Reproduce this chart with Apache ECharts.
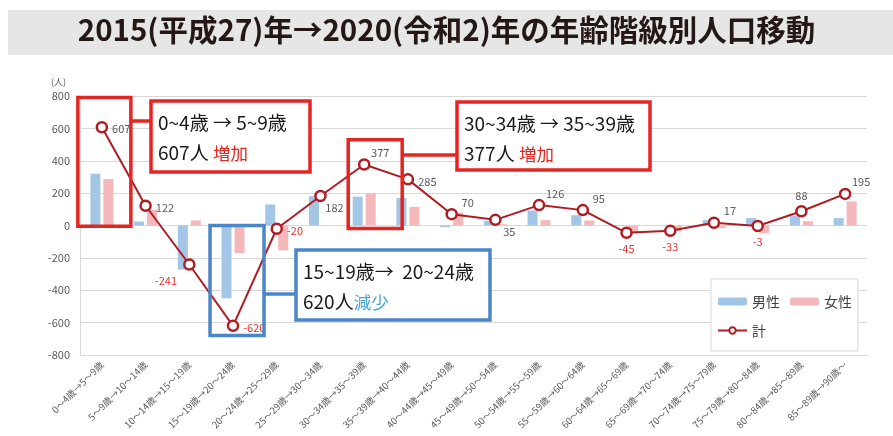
<!DOCTYPE html>
<html>
<head>
<meta charset="utf-8">
<script src="https://cdn.jsdelivr.net/npm/echarts@6/dist/echarts.min.js"></script>
<style>
  html, body { margin: 0; padding: 0; background: #fff; }
  #chart { width: 893px; height: 436px; }
</style>
</head>
<body>
<div id="chart"></div>
<script>
const FONT = '"Noto Sans CJK JP", "Noto Sans", sans-serif';

const categories = [
  '0～4歳→5～9歳', '5～9歳→10～14歳', '10～14歳→15～19歳', '15～19歳→20～24歳',
  '20～24歳→25～29歳', '25～29歳→30～34歳', '30～34歳→35～39歳', '35～39歳→40～44歳',
  '40～44歳→45～49歳', '45～49歳→50～54歳', '50～54歳→55～59歳', '55～59歳→60～64歳',
  '60～64歳→65～69歳', '65～69歳→70～74歳', '70～74歳→75～79歳', '75～79歳→80～84歳',
  '80～84歳→85～89歳', '85～89歳→90歳～'
];
const male   = [320, 25, -272, -450, 130, 181, 178, 170, -10, 27, 93, 64, -3, 2, 33, 46, 61, 46];
const female = [287, 97, 31, -170, -154, 1, 199, 115, 80, 8, 33, 31, -40, -35, -16, -49, 27, 149];
const total  = [607, 122, -241, -620, -20, 182, 377, 285, 70, 35, 126, 95, -45, -33, 17, -3, 88, 195];
const yTicks = { min: -800, max: 800, step: 200 };

// where each total label sits around its point
const labelPlace = ['r', 'r', 'bl', 'r', 'r', 'br', 'tr', 'r', 'tr', 'br', 'tr', 'tr', 'b', 'b', 'tr', 'b', 't', 'tr'];

const placeMap = {
  r:  { position: 'right', offset: [0, 2] },
  tr: { position: 'top', offset: [16, 4] },
  br: { position: 'bottom', offset: [14, -4] },
  bl: { position: 'left', offset: [-2, 16] },
  b:  { position: 'bottom', offset: [0, 0] },
  t:  { position: 'top', offset: [0, 0] }
};

const lineColor = '#b01c23';

const totalData = total.map((v, i) => ({
  value: v,
  label: Object.assign({ color: v < 0 ? '#e8312e' : '#595959' }, placeMap[labelPlace[i]])
}));

const chart = echarts.init(document.getElementById('chart'));

chart.setOption({
  animation: false,
  textStyle: { fontFamily: FONT },
  grid: { left: 80, right: 26, top: 96, bottom: 81 },
  legend: {
    data: ['男性', '女性', '計'],
    left: 711, top: 279,
    width: 140,
    padding: [13, 6, 11, 6],
    itemWidth: 29, itemHeight: 8, itemGap: 10,
    borderColor: '#d9d9d9', borderWidth: 1,
    backgroundColor: '#fff',
    textStyle: { fontSize: 14, color: '#404040', fontFamily: FONT, lineHeight: 19 }
  },
  xAxis: {
    type: 'category',
    data: categories,
    axisLine: { onZero: false, lineStyle: { color: '#d9d9d9' } },
    axisTick: { show: false },
    axisLabel: { interval: 0, rotate: 45, fontSize: 9.5, color: '#595959', margin: 8 }
  },
  yAxis: {
    type: 'value',
    min: yTicks.min, max: yTicks.max, interval: yTicks.step,
    name: '(人)',
    nameGap: 10,
    nameTextStyle: { fontSize: 9, color: '#595959', align: 'right', padding: [0, 14, 0, 0] },
    axisLine: { show: true, lineStyle: { color: '#d9d9d9' } },
    axisTick: { show: false },
    axisLabel: { fontSize: 11, color: '#595959', margin: 10 },
    splitLine: { lineStyle: { color: '#d9d9d9' } }
  },
  series: [
    {
      name: '男性', type: 'bar', data: male,
      barWidth: 10, barGap: '30%',
      itemStyle: { color: '#a4c6e6' }
    },
    {
      name: '女性', type: 'bar', data: female,
      barWidth: 10,
      itemStyle: { color: '#f4b8bb' }
    },
    {
      name: '計', type: 'line', data: totalData,
      symbol: 'circle', symbolSize: 10,
      lineStyle: { color: lineColor, width: 2 },
      itemStyle: { color: '#fff', borderColor: lineColor, borderWidth: 2.5 },
      label: { show: true, fontSize: 11, distance: 4 },
      z: 5
    }
  ]
});

// annotation boxes, tied to categories and values
const toPx = (i, v) => chart.convertToPixel({ xAxisIndex: 0, yAxisIndex: 0 }, [i, v]);
const RED = '#e52521', BLUE = '#4a86c8';

function highlight(i, vTop, vBottom, dl, dr, color) {
  const top = toPx(i, vTop), bot = toPx(i, vBottom);
  return { x: top[0] + dl, y: top[1], w: dr - dl, h: bot[1] - top[1], color };
}

const hA = highlight(0, 790, -5, -24, 29, RED);
const hB = highlight(6, 530, -18, -16, 38, RED);
const hC = highlight(3, 0, -680, -23, 31, BLUE);

const callouts = [
  { hl: hA, x: 151, y: 101, w: 159, h: 71, cy: 121, line1: '0~4歳 → 5~9歳', num: '607人 ', word: '増加', wc: RED },
  { hl: hB, x: 457, y: 102, w: 193, h: 68, cy: 155, line1: '30~34歳 → 35~39歳', num: '377人 ', word: '増加', wc: RED },
  { hl: hC, x: 296, y: 250, w: 194, h: 70, cy: 294, line1: '15~19歳→  20~24歳', num: '620人', word: '減少', wc: '#4ba3d8' }
];

const graphics = [
  { type: 'rect', left: 8, top: 10, shape: { width: 885, height: 45 }, style: { fill: '#e6e6e6' }, z: 0 },
  {
    type: 'text', left: 'center', top: 15,
    style: { text: '2015(平成27)年→2020(令和2)年の年齢階級別人口移動', font: 'bold 29.5px ' + FONT, fill: '#231815' }
  }
];

callouts.forEach(c => {
  const h = c.hl;
  graphics.push({
    type: 'rect', shape: { x: h.x, y: h.y, width: h.w, height: h.h },
    style: { fill: 'none', stroke: h.color, lineWidth: 3.5 }, z: 10
  });
  graphics.push({
    type: 'line', shape: { x1: h.x + h.w, y1: c.cy, x2: c.x, y2: c.cy },
    style: { stroke: h.color, lineWidth: 3.5 }, z: 10
  });
  graphics.push({
    type: 'rect', shape: { x: c.x, y: c.y, width: c.w, height: c.h },
    style: { fill: '#fff', stroke: h.color, lineWidth: 3.5 }, z: 10
  });
  graphics.push({
    type: 'text', x: c.x + 7, y: c.y + 7, z: 11,
    style: {
      text: '{a|' + c.line1 + '}\n{a|' + c.num + '}{w|' + c.word + '}',
      rich: {
        a: { font: '19px ' + FONT, fill: '#1a1a1a', lineHeight: 30 },
        w: { font: '17.5px ' + FONT, fill: c.wc, lineHeight: 30 }
      }
    }
  });
});

chart.setOption({ graphic: graphics });
</script>
</body>
</html>
